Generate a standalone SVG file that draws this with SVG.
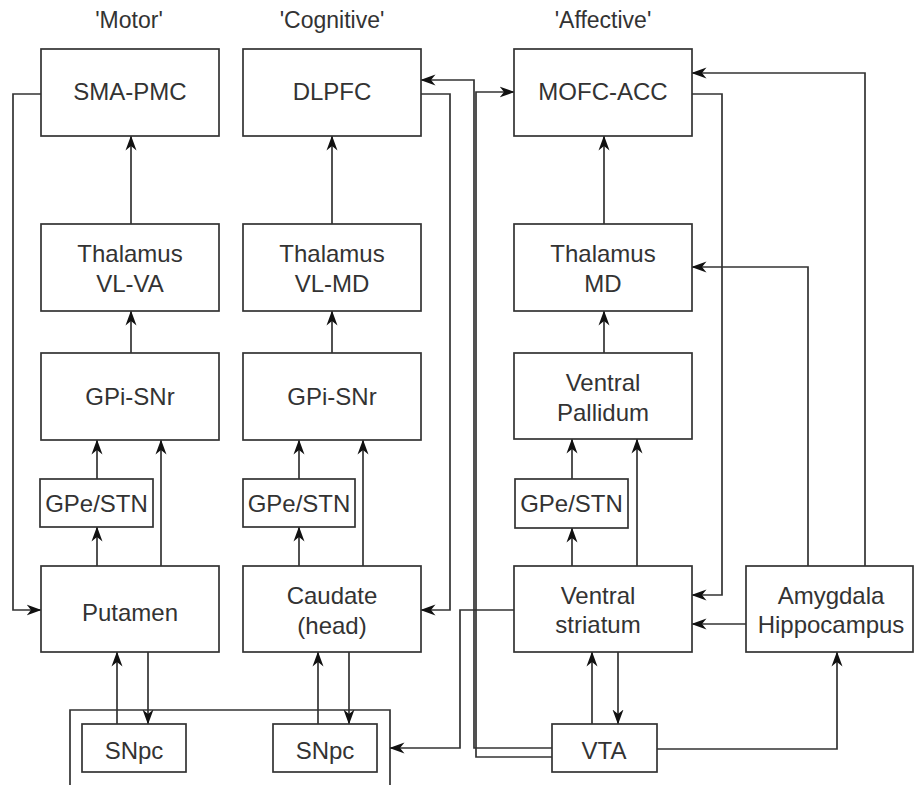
<svg xmlns="http://www.w3.org/2000/svg" width="915" height="785" viewBox="0 0 915 785">
<style>
.box{fill:#fff;stroke:#333;stroke-width:1.7}
.t{font-family:"Liberation Sans",Arial,sans-serif;font-size:24px;fill:#333;text-anchor:middle}
.h{font-family:"Liberation Sans",Arial,sans-serif;font-size:23px;fill:#333;text-anchor:middle}
.c{fill:none;stroke:#333;stroke-width:1.7}
.a{fill:none;stroke:#333;stroke-width:1.7;marker-end:url(#arr)}
</style>
<defs>
<marker id="arr" markerUnits="userSpaceOnUse" viewBox="0 0 15 12" markerWidth="15" markerHeight="12" refX="14.5" refY="6" orient="auto">
<path d="M0,0.5 L15,6 L0,11.5 L4.5,6 Z" fill="#111"/>
</marker>
</defs>
<rect width="915" height="785" fill="#fff"/>

<g id="headers">
<text class="h" x="129" y="28">'Motor'</text>
<text class="h" x="332" y="28">'Cognitive'</text>
<text class="h" x="603" y="28">'Affective'</text>
</g>

<g id="connectors">
<path class="c" d="M70,785 V710 H390 V785"/>
<path class="a" d="M131,224 V136"/>
<path class="a" d="M131,353 V311"/>
<path class="a" d="M97,479 V440"/>
<path class="a" d="M97,566 V527"/>
<path class="a" d="M161,566 V440"/>
<path class="a" d="M41,94 H13 V610 H41"/>
<path class="a" d="M117,724 V652"/>
<path class="a" d="M148,652 V724"/>
<path class="a" d="M332,224 V136"/>
<path class="a" d="M332,353 V311"/>
<path class="a" d="M299,479 V440"/>
<path class="a" d="M299,566 V527"/>
<path class="a" d="M363,566 V440"/>
<path class="a" d="M421,94 H450 V610 H421"/>
<path class="a" d="M318,724 V652"/>
<path class="a" d="M349,652 V724"/>
<path class="a" d="M604,224 V136"/>
<path class="a" d="M604,353 V311"/>
<path class="a" d="M572,479 V439"/>
<path class="a" d="M572,566 V528"/>
<path class="a" d="M637,566 V439"/>
<path class="a" d="M592,724 V652"/>
<path class="a" d="M618,652 V724"/>
<path class="a" d="M692,94 H722 V595 H692"/>
<path class="a" d="M746,624 H692"/>
<path class="a" d="M808,566 V267 H692"/>
<path class="a" d="M865,566 V73 H692"/>
<path class="a" d="M657,749 H837 V652"/>
<path class="a" d="M514,610 H460 V748 H390"/>
<path class="a" d="M552,748 H474 V80 H421"/>
<path class="a" d="M552,757 H476 V92 H514"/>
</g>

<g id="sma-pmc"><rect class="box" x="41" y="49" width="178" height="87"/><text class="t" x="130" y="100">SMA-PMC</text></g>
<g id="thalamus-vl-va"><rect class="box" x="41" y="224" width="178" height="87"/><text class="t" x="130" y="262">Thalamus</text><text class="t" x="130" y="292">VL-VA</text></g>
<g id="gpi-snr-motor"><rect class="box" x="41" y="353" width="178" height="87"/><text class="t" x="130" y="405">GPi-SNr</text></g>
<g id="gpe-stn-motor"><rect class="box" x="40" y="479" width="113" height="48"/><text class="t" x="96.5" y="512">GPe/STN</text></g>
<g id="putamen"><rect class="box" x="41" y="566" width="178" height="86"/><text class="t" x="130" y="621">Putamen</text></g>
<g id="snpc-motor"><rect class="box" x="82" y="724" width="104" height="48"/><text class="t" x="134" y="759">SNpc</text></g>

<g id="dlpfc"><rect class="box" x="243" y="49" width="178" height="87"/><text class="t" x="332" y="100">DLPFC</text></g>
<g id="thalamus-vl-md"><rect class="box" x="243" y="224" width="178" height="87"/><text class="t" x="332" y="262">Thalamus</text><text class="t" x="332" y="292">VL-MD</text></g>
<g id="gpi-snr-cog"><rect class="box" x="243" y="353" width="178" height="87"/><text class="t" x="332" y="405">GPi-SNr</text></g>
<g id="gpe-stn-cog"><rect class="box" x="243" y="479" width="112" height="48"/><text class="t" x="299" y="512">GPe/STN</text></g>
<g id="caudate"><rect class="box" x="243" y="566" width="178" height="86"/><text class="t" x="332" y="604">Caudate</text><text class="t" x="332" y="634">(head)</text></g>
<g id="snpc-cog"><rect class="box" x="273" y="724" width="104" height="48"/><text class="t" x="325" y="759">SNpc</text></g>

<g id="mofc-acc"><rect class="box" x="514" y="49" width="178" height="87"/><text class="t" x="603" y="100">MOFC-ACC</text></g>
<g id="thalamus-md"><rect class="box" x="514" y="224" width="178" height="87"/><text class="t" x="603" y="262">Thalamus</text><text class="t" x="603" y="292">MD</text></g>
<g id="ventral-pallidum"><rect class="box" x="514" y="353" width="178" height="86"/><text class="t" x="603" y="391">Ventral</text><text class="t" x="603" y="421">Pallidum</text></g>
<g id="gpe-stn-aff"><rect class="box" x="515" y="479" width="113" height="49"/><text class="t" x="571.5" y="512">GPe/STN</text></g>
<g id="ventral-striatum"><rect class="box" x="514" y="566" width="178" height="86"/><text class="t" x="598" y="604">Ventral</text><text class="t" x="598" y="633">striatum</text></g>
<g id="amygdala-hippocampus"><rect class="box" x="746" y="566" width="167" height="86"/><text class="t" x="831" y="604">Amygdala</text><text class="t" x="831" y="633">Hippocampus</text></g>
<g id="vta"><rect class="box" x="552" y="724" width="105" height="48"/><text class="t" x="604" y="759">VTA</text></g>
</svg>
